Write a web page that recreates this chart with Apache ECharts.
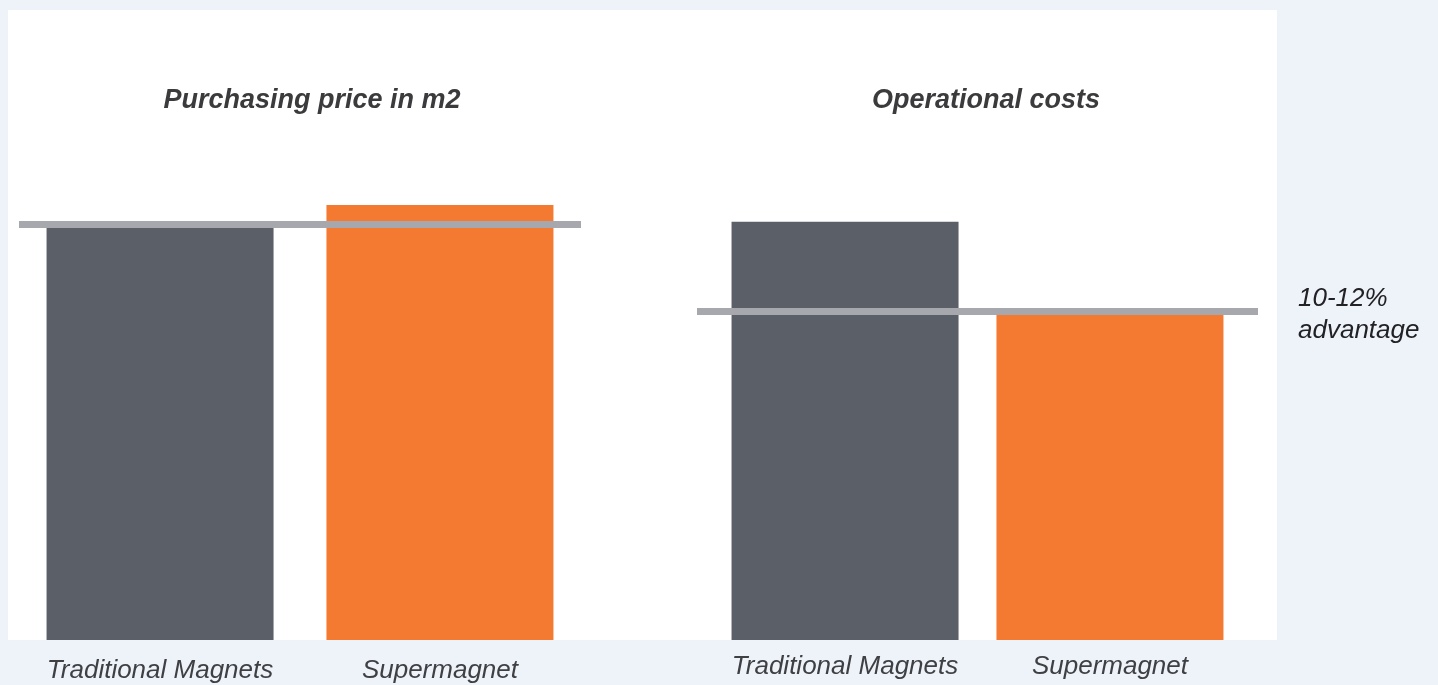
<!DOCTYPE html>
<html>
<head>
<meta charset="utf-8">
<script src="https://cdn.jsdelivr.net/npm/echarts@6/dist/echarts.min.js"></script>
<style>
html,body{margin:0;padding:0;background:#eef3fa;}
#chart{width:1438px;height:685px;}
</style>
</head>
<body>
<div id="chart"></div>
<script>
const categories = ['Traditional Magnets', 'Supermagnet'];
const panelTitles = ['Purchasing price in m2', 'Operational costs'];
const purchasingValues = [100, 105.6];
const operationalValues = [101.5, 79.4];
const referenceLines = [100.8, 79.9];
const annotationText = '10-12%\nadvantage';

const panels = [purchasingValues, operationalValues];
const colors = ['#5b5f68', '#f47a32'];
const FONT = '"Liberation Sans", Arial, sans-serif';
const labelDistance = [18, 14];

const chart = echarts.init(document.getElementById('chart'));

const grids = [
  {left: 19, width: 562, top: 22, bottom: 45},
  {left: 697, right: 180, top: 22, bottom: 45}
];
const barGaps = ['23.3%', '16.7%'];

const series = [];
panels.forEach((vals, p) => {
  categories.forEach((cat, i) => {
    const s = {
      type: 'bar',
      name: cat,
      xAxisIndex: p,
      yAxisIndex: p,
      data: [vals[i]],
      barWidth: 227,
      barGap: barGaps[p],
      itemStyle: {color: colors[i]},
      label: {
        show: true,
        position: 'bottom',
        distance: labelDistance[p],
        formatter: cat,
        fontFamily: FONT,
        fontStyle: 'italic',
        fontSize: 26,
        color: '#3f4044'
      },
      silent: true
    };
    if (i === 1) {
      s.markLine = {
        silent: true,
        symbol: 'none',
        label: {show: false},
        lineStyle: {color: '#a7a8ad', width: 7, type: 'solid'},
        data: [{yAxis: referenceLines[p]}],
        animation: false
      };
    }
    series.push(s);
  });
});

const option = {
  animation: false,
  backgroundColor: '#eef3fa',
  grid: grids,
  xAxis: grids.map((g, p) => ({
    type: 'category', gridIndex: p, data: [panelTitles[p]],
    show: false
  })),
  yAxis: grids.map((g, p) => ({
    type: 'value', gridIndex: p, min: 0, max: 150, show: false
  })),
  graphic: [
    {type: 'rect', z: -10, silent: true,
     shape: {x: 8, y: 10, width: 1269, height: 630},
     style: {fill: '#ffffff'}},
    {type: 'text', silent: true, x: 312, y: 101,
     style: {text: panelTitles[0], font: 'italic bold 27px ' + FONT, fill: '#3b3b3d', textAlign: 'center', textVerticalAlign: 'middle'}},
    {type: 'text', silent: true, x: 986, y: 101,
     style: {text: panelTitles[1], font: 'italic bold 27px ' + FONT, fill: '#3b3b3d', textAlign: 'center', textVerticalAlign: 'middle'}},
    {type: 'text', silent: true, x: 1298, y: 315,
     style: {text: annotationText, font: 'italic 26px ' + FONT, fill: '#222226', textAlign: 'left', textVerticalAlign: 'middle', lineHeight: 32}}
  ],
  series: series
};
chart.setOption(option);
</script>
</body>
</html>
